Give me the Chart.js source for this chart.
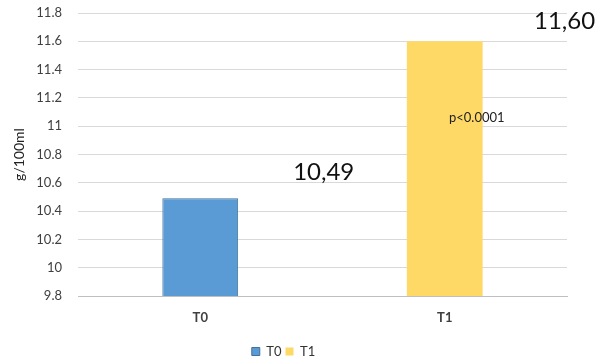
<!DOCTYPE html>
<html>
<head>
<meta charset="utf-8">
<script src="https://cdn.jsdelivr.net/npm/chart.js@4/dist/chart.umd.min.js"></script>
<style>
html,body{margin:0;padding:0;background:#fff;}
#wrap{width:600px;height:361px;position:relative;}
</style>
</head>
<body>
<div id="wrap"><canvas id="c" width="600" height="361"></canvas></div>
<script>
const categories = ["T0", "T1"];
const seriesNames = ["T0", "T1"];
const t0Values = [10.49, null];
const t1Values = [null, 11.60];
const valueLabels = ["10,49", "11,60"];
const pLabel = "p<0.0001";
const pValueLevel = 11.06;
const yTitle = "g/100ml";
const yMin = 9.8, yMax = 11.8, yStep = 0.2;

const FONT = "Lato, 'Open Sans', sans-serif";

const annot = {
  id: 'annot',
  afterDatasetsDraw(chart) {
    const ctx = chart.ctx;
    const xs = chart.scales.x, ys = chart.scales.y;
    const catW = xs.getPixelForValue(1) - xs.getPixelForValue(0);
    ctx.save();
    ctx.textAlign = 'center';
    ctx.textBaseline = 'middle';
    ctx.fillStyle = '#111';
    ctx.font = "24px " + FONT;
    ctx.fillText(valueLabels[0], xs.getPixelForValue(0) + catW * 0.505, ys.getPixelForValue(t0Values[0]) - 26);
    ctx.fillText(valueLabels[1], xs.getPixelForValue(1) + catW * 0.49, ys.getPixelForValue(t1Values[1]) - 20);
    ctx.font = "13px " + FONT;
    ctx.fillStyle = '#222';
    ctx.fillText(pLabel, xs.getPixelForValue(1) + 32, ys.getPixelForValue(pValueLevel));
    ctx.restore();
  }
};

new Chart(document.getElementById('c'), {
  type: 'bar',
  data: {
    labels: categories,
    datasets: [
      { label: seriesNames[0], data: t0Values, backgroundColor: '#5B9BD5', borderColor: '#41719C', borderWidth: 1, grouped: false },
      { label: seriesNames[1], data: t1Values, backgroundColor: '#FFD966', borderColor: '#FFD966', borderWidth: 0, grouped: false }
    ]
  },
  options: {
    responsive: false,
    animation: false,
    devicePixelRatio: 1,
    layout: { padding: { left: 0, right: 33, top: 13, bottom: -7 } },
    datasets: { bar: { barPercentage: 0.31, categoryPercentage: 1.0 } },
    plugins: {
      legend: {
        position: 'bottom',
        labels: { boxWidth: 8, boxHeight: 8, padding: 4, color: '#333', font: { family: FONT, size: 13 } }
      },
      tooltip: { enabled: false }
    },
    scales: {
      x: {
        grid: { display: false },
        border: { display: true, color: '#bfbfbf' },
        ticks: { color: '#404040', padding: 6, font: { family: FONT, size: 13, weight: 'bold' } },
        afterFit(s) { s.height = 45; }
      },
      y: {
        min: yMin, max: yMax,
        grid: { color: '#d9d9d9', drawTicks: true, tickLength: 13, tickColor: 'rgba(0,0,0,0)' },
        border: { display: false },
        ticks: { stepSize: yStep, color: '#404040', padding: 3, font: { family: FONT, size: 13 },
          callback: v => String(Math.round(v * 10) / 10) },
        title: { display: true, text: yTitle, color: '#222', font: { family: FONT, size: 14 }, padding: { top: 11, bottom: 0 } },
        afterFit(s) { s.width = 78; }
      }
    }
  },
  plugins: [annot]
});
</script>
</body>
</html>
